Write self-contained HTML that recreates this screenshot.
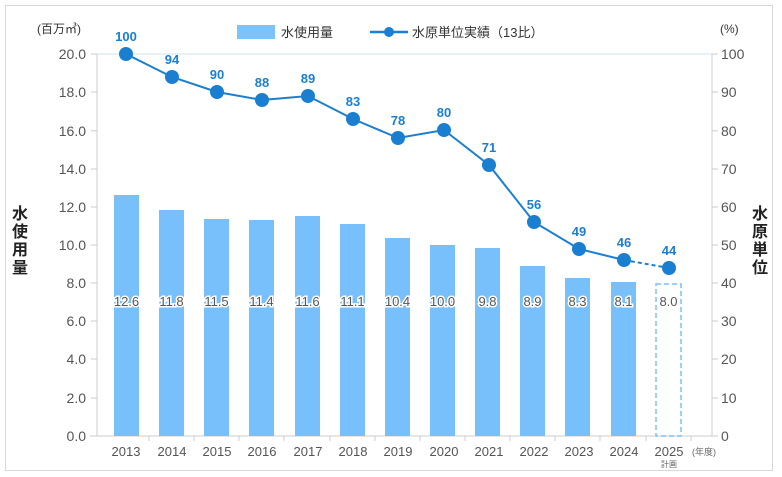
<!DOCTYPE html>
<html><head><meta charset="utf-8"><style>
body{margin:0;background:#fff;}
svg{display:block;font-family:"Liberation Sans","Noto Sans CJK JP",sans-serif;}
</style></head><body>
<svg width="782" height="477" viewBox="0 0 782 477" xmlns="http://www.w3.org/2000/svg">
<rect x="5.5" y="5.5" width="767" height="465" fill="#fff" stroke="#d8d8d8"/>
<line x1="97" y1="54" x2="712" y2="54" stroke="#cfe3f2"/>
<line x1="97" y1="54" x2="97" y2="436" stroke="#ccc"/>
<line x1="712" y1="54" x2="712" y2="436" stroke="#ccc"/>
<line x1="90" y1="436" x2="718" y2="436" stroke="#ccc"/>
<g stroke="#ccc">
<line x1="91" y1="54" x2="97" y2="54"/><line x1="91" y1="92" x2="97" y2="92"/><line x1="91" y1="130.8" x2="97" y2="130.8"/><line x1="91" y1="169" x2="97" y2="169"/><line x1="91" y1="207" x2="97" y2="207"/><line x1="91" y1="245" x2="97" y2="245"/><line x1="91" y1="283" x2="97" y2="283"/><line x1="91" y1="321" x2="97" y2="321"/><line x1="91" y1="359" x2="97" y2="359"/><line x1="91" y1="398" x2="97" y2="398"/>
<line x1="712" y1="54" x2="718" y2="54"/><line x1="712" y1="92" x2="718" y2="92"/><line x1="712" y1="130.8" x2="718" y2="130.8"/><line x1="712" y1="169" x2="718" y2="169"/><line x1="712" y1="207" x2="718" y2="207"/><line x1="712" y1="245" x2="718" y2="245"/><line x1="712" y1="283" x2="718" y2="283"/><line x1="712" y1="321" x2="718" y2="321"/><line x1="712" y1="359" x2="718" y2="359"/><line x1="712" y1="398" x2="718" y2="398"/>
<line x1="149" y1="436" x2="149" y2="441"/><line x1="194" y1="436" x2="194" y2="441"/><line x1="239" y1="436" x2="239" y2="441"/><line x1="284" y1="436" x2="284" y2="441"/><line x1="330" y1="436" x2="330" y2="441"/><line x1="375" y1="436" x2="375" y2="441"/><line x1="420" y1="436" x2="420" y2="441"/><line x1="465" y1="436" x2="465" y2="441"/><line x1="510" y1="436" x2="510" y2="441"/><line x1="555" y1="436" x2="555" y2="441"/><line x1="600" y1="436" x2="600" y2="441"/><line x1="646" y1="436" x2="646" y2="441"/><line x1="691" y1="436" x2="691" y2="441"/>
</g>
<g font-size="14" fill="#555" text-anchor="end">
<text x="86" y="59">20.0</text><text x="86" y="97">18.0</text><text x="86" y="136">16.0</text><text x="86" y="174">14.0</text><text x="86" y="212">12.0</text><text x="86" y="250">10.0</text><text x="86" y="288">8.0</text><text x="86" y="326">6.0</text><text x="86" y="364">4.0</text><text x="86" y="403">2.0</text><text x="86" y="441">0.0</text>
</g>
<g font-size="14" fill="#555" text-anchor="start">
<text x="721" y="59">100</text><text x="721" y="97">90</text><text x="721" y="136">80</text><text x="721" y="174">70</text><text x="721" y="212">60</text><text x="721" y="250">50</text><text x="721" y="288">40</text><text x="721" y="326">30</text><text x="721" y="364">20</text><text x="721" y="403">10</text><text x="721" y="441">0</text>
</g>
<text x="37" y="33" font-size="12" fill="#333">(百万㎥)</text>
<text x="720" y="33" font-size="12" fill="#333">(%)</text>
<g font-size="16" font-weight="bold" fill="#222" text-anchor="middle">
<text x="20" y="219">水</text><text x="20" y="237">使</text><text x="20" y="255">用</text><text x="20" y="273">量</text>
<text x="760" y="219">水</text><text x="760" y="237">原</text><text x="760" y="255">単</text><text x="760" y="273">位</text>
</g>
<rect x="237" y="25" width="38" height="14" fill="#7cc2fb"/>
<text x="281" y="37" font-size="13" fill="#333">水使用量</text>
<line x1="370" y1="32" x2="408" y2="32" stroke="#1a7fd0" stroke-width="2.5"/>
<circle cx="389" cy="32" r="5" fill="#1a7fd0"/>
<text x="412" y="37" font-size="13" fill="#333">水原単位実績（13比）</text>
<g fill="#78c0fb">
<rect x="114" y="195" width="25" height="241"/>
<rect x="159" y="210" width="25" height="226"/>
<rect x="204" y="219" width="25" height="217"/>
<rect x="249" y="220" width="25" height="216"/>
<rect x="295" y="216" width="25" height="220"/>
<rect x="340" y="224" width="25" height="212"/>
<rect x="385" y="238" width="25" height="198"/>
<rect x="430" y="245" width="25" height="191"/>
<rect x="475" y="248" width="25" height="188"/>
<rect x="520" y="266" width="25" height="170"/>
<rect x="565" y="278" width="25" height="158"/>
<rect x="611" y="282" width="25" height="154"/>
</g>
<rect x="656" y="284" width="25" height="152" fill="none" stroke="#78c0fb" stroke-width="1.5" stroke-dasharray="5,3"/>
<g font-size="13" fill="#555" text-anchor="middle" stroke="#fff" stroke-width="3" paint-order="stroke">
<text x="126.5" y="306">12.6</text><text x="171.5" y="306">11.8</text><text x="216.5" y="306">11.5</text><text x="261.5" y="306">11.4</text><text x="307.5" y="306">11.6</text><text x="352.5" y="306">11.1</text><text x="397.5" y="306">10.4</text><text x="442.5" y="306">10.0</text><text x="487.5" y="306">9.8</text><text x="532.5" y="306">8.9</text><text x="577.5" y="306">8.3</text><text x="623.5" y="306">8.1</text><text x="668.5" y="306" stroke="none">8.0</text>
</g>
<polyline points="126,54 172,77 217,92 262,100 308,96 353,119 398,138 444,130 489,165 534,222 579,249 624,260" fill="none" stroke="#1a7fd0" stroke-width="2"/>
<line x1="624" y1="260" x2="669" y2="268" stroke="#1a7fd0" stroke-width="2" stroke-dasharray="4,3"/>
<g fill="#1a7fd0">
<circle cx="126" cy="54" r="7"/><circle cx="172" cy="77" r="7"/><circle cx="217" cy="92" r="7"/><circle cx="262" cy="100" r="7"/><circle cx="308" cy="96" r="7"/><circle cx="353" cy="119" r="7"/><circle cx="398" cy="138" r="7"/><circle cx="444" cy="130" r="7"/><circle cx="489" cy="165" r="7"/><circle cx="534" cy="222" r="7"/><circle cx="579" cy="249" r="7"/><circle cx="624" cy="260" r="7"/><circle cx="669" cy="268" r="7"/>
</g>
<g font-size="13" font-weight="bold" fill="#1a7fd0" text-anchor="middle">
<text x="126" y="41">100</text><text x="172" y="64">94</text><text x="217" y="79">90</text><text x="262" y="87">88</text><text x="308" y="83">89</text><text x="353" y="106">83</text><text x="398" y="125">78</text><text x="444" y="117">80</text><text x="489" y="152">71</text><text x="534" y="209">56</text><text x="579" y="236">49</text><text x="624" y="247">46</text><text x="669" y="255">44</text>
</g>
<g font-size="13" fill="#555" text-anchor="middle">
<text x="126" y="456">2013</text><text x="172" y="456">2014</text><text x="217" y="456">2015</text><text x="262" y="456">2016</text><text x="308" y="456">2017</text><text x="353" y="456">2018</text><text x="398" y="456">2019</text><text x="444" y="456">2020</text><text x="489" y="456">2021</text><text x="534" y="456">2022</text><text x="579" y="456">2023</text><text x="624" y="456">2024</text><text x="669" y="456">2025</text>
</g>
<text x="669" y="467" font-size="8" fill="#666" text-anchor="middle">計画</text>
<text x="692" y="455" font-size="9" fill="#666">(年度)</text>
</svg>
</body></html>
